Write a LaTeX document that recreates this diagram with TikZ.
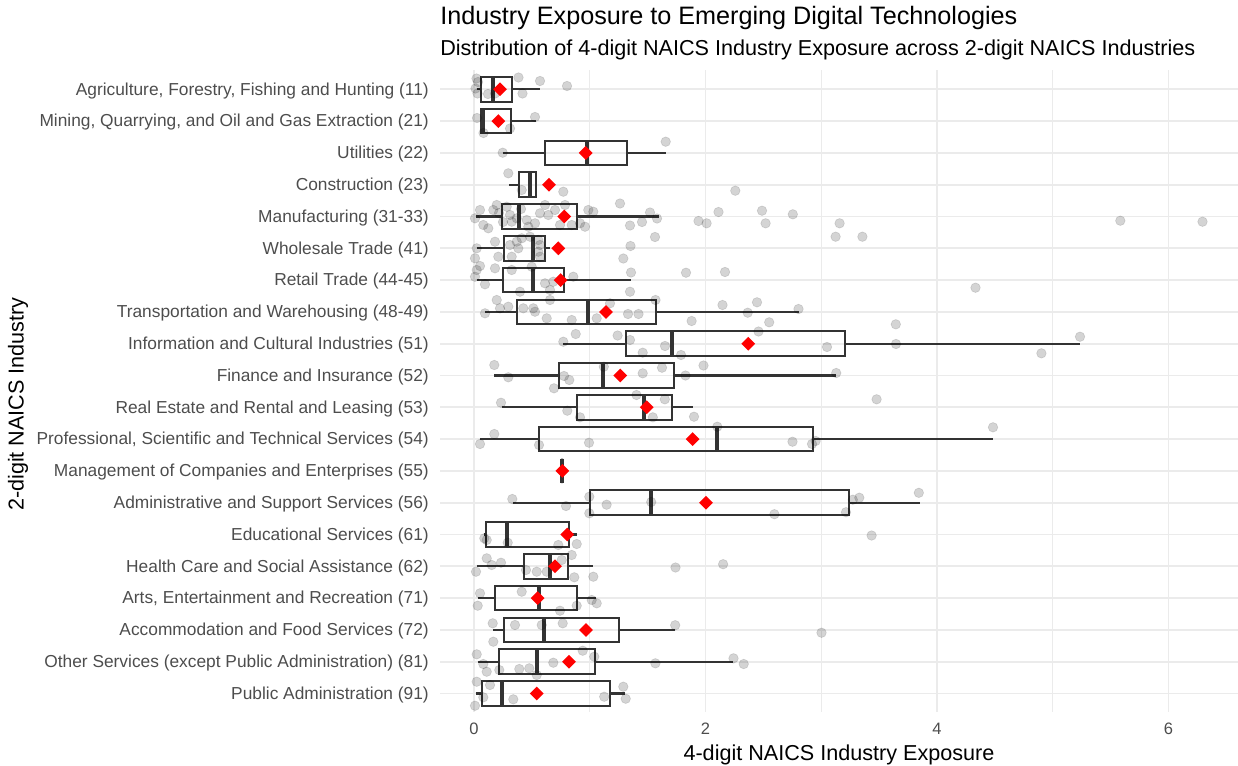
\documentclass[tikz,border=0pt]{standalone}
\usepackage{fontspec}
\setmainfont{Liberation Sans}
\usetikzlibrary{shapes.geometric}
\definecolor{axtxt}{HTML}{4D4D4D}
\definecolor{boxc}{HTML}{333333}
\definecolor{gridc}{HTML}{EBEBEB}
\tikzset{
  boxln/.style={draw=boxc, line width=1.6pt},
  medln/.style={draw=boxc, line width=3pt},
  jit/.style={fill=black, fill opacity=0.17, draw=black, draw opacity=0.12, line width=0.5pt},
  meanmk/.style={diamond, fill=red, inner sep=0pt, minimum width=10.5pt, minimum height=10.5pt, aspect=1},
  gmaj/.style={draw=gridc, line width=1.3pt},
  gmin/.style={draw=gridc, line width=0.7pt},
  ylab/.style={anchor=base east, inner sep=0pt, text=axtxt, font=\fontsize{13}{14}\selectfont},
  xtick/.style={anchor=base, inner sep=0pt, text=axtxt, font=\fontsize{12.4}{14}\selectfont},
  axtitle/.style={inner sep=0pt, font=\fontsize{16.2}{18}\selectfont},
}
\newcommand\onebox[6]{%
  \draw[boxln] (#2,#1) -- (#3,#1);
  \draw[boxln] (#5,#1) -- (#6,#1);
  \draw[boxln] (#3,#1-12.3) rectangle (#5,#1+12.3);
  \draw[medln] (#4,#1-12.3) -- (#4,#1+12.3);
}
\begin{document}
\begin{tikzpicture}[x=0.75pt,y=-0.75pt]
\useasboundingbox (0,0) rectangle (1238,765);
% grid
\foreach \gx in {589.75,821.25,1052.75} \draw[gmin] (\gx,70) -- (\gx,712);
\foreach \gx in {474,705.5,937,1168.5} \draw[gmaj] (\gx,70) -- (\gx,712);
\foreach \gy in {89.3,121.1,152.9,184.7,216.5,248.3,280.1,311.9,343.7,375.5,407.3,439.1,470.9,502.7,534.5,566.3,598.1,629.9,661.7,693.5}
  \draw[gmaj] (440,\gy) -- (1238,\gy);
% boxes: y, whisker lo, q1, median, q3, whisker hi
\onebox{89.3}{476.7}{480.7}{493.3}{512.3}{540}
\onebox{121.1}{481.3}{481.3}{483.3}{511}{535.7}
\onebox{152.9}{502.7}{545.3}{587.3}{627.3}{665.7}
\onebox{184.7}{509}{519.3}{530}{535.7}{535.7}
\onebox{216.5}{475.7}{501.7}{519.3}{576.7}{659}
\onebox{248.3}{476.7}{504.3}{533}{545}{550}
\onebox{280.1}{476.7}{502.7}{532.7}{564}{630.7}
\onebox{311.9}{485}{517}{587.7}{655.7}{798.5}
\onebox{343.7}{563.3}{626}{672.3}{844.7}{1080}
\onebox{375.5}{494.3}{559.3}{603.3}{674.3}{836}
\onebox{407.3}{501.7}{576.7}{644}{672.3}{693.3}
\onebox{439.1}{480}{539.3}{717.3}{812.7}{993}
\onebox{470.9}{562.3}{562.3}{562.3}{562.3}{562.3}
\onebox{502.7}{513.3}{590.3}{651}{849.3}{920}
\onebox{534.5}{484.3}{485.7}{507.3}{569}{576.7}
\onebox{566.3}{476.7}{523.7}{550}{568.3}{593.3}
\onebox{598.1}{477.7}{495}{539}{577.3}{596}
\onebox{629.9}{493.3}{504}{543.7}{619.3}{675.3}
\onebox{661.7}{477.7}{499}{537.3}{594.7}{733.3}
\onebox{693.5}{475.7}{481.7}{502}{610}{625}
% jittered points
\foreach \px/\py in {
 476.5/78.5,478/82,475.5/88.5,477.5/93.5,488/94,495/93.5,518.5/77.5,522.5/93.5,540/81,567/86,
 477/118,483.5/133,510/128.5,535/117,
 502.7/152.7,665.7/141.7,
 508.3/173.3,521.7/190,563.3/191.7,735.3/190.7,
 475/218.3,480/210,483.3/225,488.3/228.3,493.3/210,496.7/205,506.7/206.7,510/215,511.7/221.7,516.7/218.3,
 526.7/220,528.3/226.7,535/223.3,545/205,548.3/215,555/210,560/225,565/205,571.7/225,580/223.3,
 585/226.7,588.3/210,593.3/211.7,620/203.5,630/225.5,642/222,650/212.5,657/218.5,698.5/221,706.6/223.3,
 718.5/212,762/210.7,765.6/223.3,792.8/214.3,839.6/223.3,1120.3/220.7,1202.5/221.7,499/213,503/222,521/209,540/213.3,
 475/258.3,476.7/248.3,480/266,495/241.7,498.3/256.7,510/245,511.7/256.7,516.7/241.7,518.3/248.3,521.7/238.3,
 530/236.7,538.3/240,540/245,538.3/251.7,540/256.7,623.3/258.5,630.5/246,655/237,835.6/236.7,862.4/236.7,
 475/276.7,476.7/270,485/284.3,495/268.3,511.7/270,520/291.7,531.7/266.7,545/283.3,550/290,553.3/281.7,
 573.3/276.7,630/291.7,631/272.5,686/272.7,725/272,975.5/287.7,
 485/313.3,496.7/300,500/308.3,508.3/306.7,523.3/308.3,533.3/308.3,535/311.7,546.7/318.3,550/300,571.7/320,
 596.7/318.3,610/303.3,628/314,638.5/314,655.5/300,691.6/321,722.5/305,747.7/312.7,757/302.3,769.2/322.3,
 798.5/309,895.8/324.3,
 563.3/341.7,575.7/334,617.6/335.5,630/340,665/346,642.7/352.7,681/355,758.5/331.5,827/347,896/344,
 1041.4/353.3,1080/336.7,
 494.3/365,508.3/377.3,564/376,569.3/380,554/388.3,603.8/366.7,642.7/373.3,662/367.7,685.5/375.5,703.5/365.5,836.2/373,
 501/402.7,567.3/410.7,580/417.3,636.5/395,652.8/417.3,664.8/399.3,694/416.7,876.6/399.3,
 494.3/434,480/444,539/445,589/442.7,717.3/426.7,792.5/441.7,812/444,815.6/441,993/427.3,
 512.3/499,566/506,589.3/496.7,589.3/513.3,606.6/504.7,651.2/502,774.4/514.2,846/512.2,852.8/499.7,859.3/497.7,918.8/492.8,
 484.3/538.3,486.7/540,507.7/542.7,558.3/545,576.7/544,871.6/535.5,
 486.7/558.3,491.7/565,501/562.7,476/571.7,526/570,536.7/571.7,546.7/571.7,561.7/560,571.7/555,574.3/577.3,
 593.3/576.7,675.5/567.5,723.1/564.2,
 480/593.3,477.7/605.7,521.7/591.7,560/610.7,576.7/605.7,591.7/600,596.7/603.3,
 492.7/623.3,493.3/641.7,515/625,541.7/625,562.7/623.3,675.2/625.2,821.5/632.7,
 476.7/654.3,483.3/664,486.7/671.7,499.3/670,519.3/669,529.3/668.3,536.7/675,553.3/662.7,582.7/650.7,594.3/656.7,
 655.4/663.3,733.5/658.3,743.7/664,
 476.7/681.7,490/685,483.3/697.3,475/705.7,513.3/699.3,604.2/696.7,623.3/686.7,625.7/698.7}
 \path[jit] (\px,\py) circle[radius=3.6pt];
% means
\node[meanmk] (m1) at (500,89.3) {};
\node[meanmk] (m2) at (498.3,121.1) {};
\node[meanmk] (m3) at (585.7,152.9) {};
\node[meanmk] (m4) at (549,184.7) {};
\node[meanmk] (m5) at (564.3,216.5) {};
\node[meanmk] (m6) at (558.3,248.3) {};
\node[meanmk] (m7) at (560.7,280.1) {};
\node[meanmk] (m8) at (606,311.9) {};
\node[meanmk] (m9) at (748.3,343.7) {};
\node[meanmk] (m10) at (620.3,375.5) {};
\node[meanmk] (m11) at (646.7,407.3) {};
\node[meanmk] (m12) at (692.7,439.1) {};
\node[meanmk] (m13) at (562.3,470.9) {};
\node[meanmk] (m14) at (706,502.7) {};
\node[meanmk] (m15) at (567.3,534.5) {};
\node[meanmk] (m16) at (555,566.3) {};
\node[meanmk] (m17) at (537.7,598.1) {};
\node[meanmk] (m18) at (586,629.9) {};
\node[meanmk] (m19) at (569,661.7) {};
\node[meanmk] (m20) at (536.7,693.5) {};
% y labels
\node[ylab] (l1) at (429,95.0) {Agriculture, Forestry, Fishing and Hunting (11)};
\node[ylab] (l2) at (429,126.8) {Mining, Quarrying, and Oil and Gas Extraction (21)};
\node[ylab] (l3) at (429,158.6) {Utilities (22)};
\node[ylab] (l4) at (429,190.4) {Construction (23)};
\node[ylab] (l5) at (429,222.2) {Manufacturing (31-33)};
\node[ylab] (l6) at (429,254.0) {Wholesale Trade (41)};
\node[ylab] (l7) at (429,285.8) {Retail Trade (44-45)};
\node[ylab] (l8) at (429,317.6) {Transportation and Warehousing (48-49)};
\node[ylab] (l9) at (429,349.4) {Information and Cultural Industries (51)};
\node[ylab] (l10) at (429,381.2) {Finance and Insurance (52)};
\node[ylab] (l11) at (429,413.0) {Real Estate and Rental and Leasing (53)};
\node[ylab] (l12) at (429,444.8) {Professional, Scientific and Technical Services (54)};
\node[ylab] (l13) at (429,476.6) {Management of Companies and Enterprises (55)};
\node[ylab] (l14) at (429,508.4) {Administrative and Support Services (56)};
\node[ylab] (l15) at (429,540.2) {Educational Services (61)};
\node[ylab] (l16) at (429,572.0) {Health Care and Social Assistance (62)};
\node[ylab] (l17) at (429,603.8) {Arts, Entertainment and Recreation (71)};
\node[ylab] (l18) at (429,635.6) {Accommodation and Food Services (72)};
\node[ylab] (l19) at (429,667.4) {Other Services (except Public Administration) (81)};
\node[ylab] (l20) at (429,699.2) {Public Administration (91)};
% x ticks
\node[xtick] (t0) at (474,734.5) {0};
\node[xtick] (t2) at (705.5,734.5) {2};
\node[xtick] (t4) at (937,734.5) {4};
\node[xtick] (t6) at (1168.5,734.5) {6};
% titles
\node[axtitle, anchor=base] (xt) at (839,760) {4-digit NAICS Industry Exposure};
\node[axtitle, rotate=90, anchor=center] (yt) at (18,404) {2-digit NAICS Industry};
\node[inner sep=0pt, anchor=base west, font=\fontsize{18.9}{22}\selectfont] (title) at (440,24.3) {Industry Exposure to Emerging Digital Technologies};
\node[inner sep=0pt, anchor=base west, font=\fontsize{16.2}{19}\selectfont] (sub) at (440,55) {Distribution of 4-digit NAICS Industry Exposure across 2-digit NAICS Industries};
\end{tikzpicture}
\end{document}
